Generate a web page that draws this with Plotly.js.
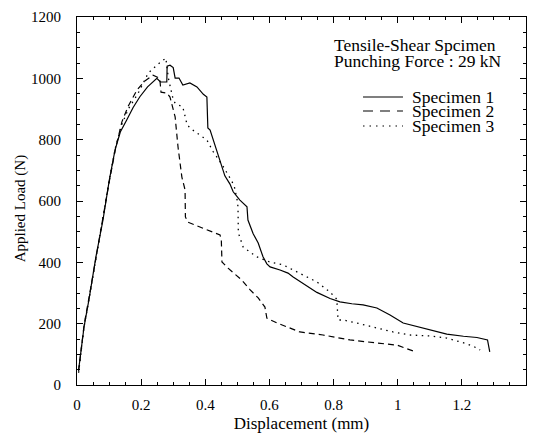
<!DOCTYPE html>
<html>
<head>
<meta charset="utf-8">
<script src="https://cdn.plot.ly/plotly-3.0.1.min.js"></script>
<style>html,body{margin:0;padding:0;background:#fff;}#chart{width:533px;height:433px;}</style>
</head>
<body>
<div id="chart"></div>
<script>
// Specimen 1 (solid)
var disp1 = [0.005,0.022,0.037,0.059,0.081,0.0925,0.1007,0.1185,0.135,0.155,0.175,0.196,0.22,0.249,0.26,0.28,0.281,0.29,0.30,0.306,0.318,0.33,0.352,0.374,0.394,0.405,0.408,0.415,0.425,0.436,0.446,0.461,0.477,0.487,0.508,0.53,0.533,0.549,0.565,0.58,0.592,0.602,0.633,0.658,0.674,0.717,0.748,0.789,0.82,0.857,0.892,0.935,0.976,1.017,1.06,1.10,1.153,1.205,1.247,1.28,1.287];
var load1 = [49,190,277,418,538,614,668,766,825,864,905,940,972,1000,988,988,1040,1043,1035,1001,1001,978,985,972,948,939,838,831,799,760,735,682,655,630,603,581,538,494,463,418,395,385,375,365,352,322,302,282,271,265,261,251,228,202,190,179,166,159,155,147,108];
// Specimen 2 (dashed)
var disp2 = [0.005,0.022,0.04,0.06,0.08,0.1,0.12,0.14,0.16,0.187,0.21,0.237,0.25,0.258,0.262,0.28,0.29,0.306,0.315,0.327,0.337,0.338,0.346,0.384,0.424,0.446,0.45,0.452,0.471,0.514,0.54,0.565,0.586,0.588,0.592,0.624,0.655,0.695,0.767,0.851,0.935,0.998,1.048];
var load2 = [45,195,300,425,540,660,770,858,910,962,990,1010,1005,1000,955,952,939,874,776,678,636,548,531,516,499,489,473,401,381,342,310,284,254,235,218,202,189,173,163,147,137,130,111];
// Specimen 3 (dotted)
var disp3 = [0.005,0.022,0.04,0.06,0.08,0.1,0.12,0.14,0.16,0.19,0.222,0.249,0.277,0.285,0.30,0.306,0.33,0.343,0.352,0.384,0.405,0.424,0.455,0.477,0.49,0.5,0.502,0.503,0.518,0.56,0.602,0.642,0.695,0.748,0.789,0.81,0.814,0.83,0.873,0.935,0.985,1.04,1.10,1.153,1.216,1.24,1.257];
var load3 = [40,190,295,420,540,665,775,850,900,950,1017,1043,1066,1000,930,919,906,850,838,815,799,762,714,675,650,600,580,496,450,418,401,392,365,336,303,280,212,212,202,186,173,163,160,153,134,124,114];

var seriesNames = ["Specimen 1","Specimen 2","Specimen 3"];
var noteLines = ["Tensile-Shear Spcimen","Punching Force : 29 kN"];
var xTitle = "Displacement (mm)";
var yTitle = "Applied Load (N)";

var FONT = "Liberation Serif, Times New Roman, serif";
var dashes = ["solid","6px,4px","1.5px,4.5px"];
var legendDashes = ["solid","10px,7px","1.5px,5px"];

var traces = [
  {x: disp1, y: load1, name: seriesNames[0], mode: "lines", line: {color: "#000", width: 1.2, dash: dashes[0]}},
  {x: disp2, y: load2, name: seriesNames[1], mode: "lines", line: {color: "#000", width: 1.2, dash: dashes[1]}},
  {x: disp3, y: load3, name: seriesNames[2], mode: "lines", line: {color: "#000", width: 1.3, dash: dashes[2]}}
];

var legY = [0.7826, 0.7446, 0.7038];
var shapes = [];
var annotations = [];
for (var i = 0; i < 3; i++) {
  shapes.push({type: "line", xref: "paper", yref: "paper", x0: 0.637, x1: 0.726, y0: legY[i], y1: legY[i],
    line: {color: "#000", width: 1.2, dash: legendDashes[i]}});
  annotations.push({xref: "paper", yref: "paper", x: 0.7416, y: legY[i], xanchor: "left", yanchor: "middle",
    text: seriesNames[i], showarrow: false, font: {family: FONT, size: 17.5, color: "#000"}});
}
annotations.push({xref: "paper", yref: "paper", x: 0.568, y: 0.924, xanchor: "left", yanchor: "middle",
  text: noteLines[0], showarrow: false, font: {family: FONT, size: 17.5, color: "#000"}});
annotations.push({xref: "paper", yref: "paper", x: 0.568, y: 0.880, xanchor: "left", yanchor: "middle",
  text: noteLines[1], showarrow: false, font: {family: FONT, size: 17.5, color: "#000"}});
// y-axis title (placed slightly below the axis centre, as in the reference)
annotations.push({xref: "paper", yref: "paper", x: -0.127, y: 0.48, xanchor: "center", yanchor: "middle",
  textangle: -90, text: yTitle, showarrow: false, font: {family: FONT, size: 15, color: "#000"}});

var layout = {
  width: 533, height: 433,
  margin: {l: 77, r: 7, t: 17, b: 48, pad: 0},
  paper_bgcolor: "#fff", plot_bgcolor: "#fff",
  showlegend: false,
  font: {family: FONT, color: "#000"},
  xaxis: {
    range: [0, 1.4], dtick: 0.2, tick0: 0,
    showline: true, linecolor: "#000", linewidth: 1, mirror: "ticks",
    ticks: "inside", ticklen: 6, tickwidth: 1, tickcolor: "#000",
    minor: {ticks: "inside", dtick: 0.05, ticklen: 3, tickwidth: 1, tickcolor: "#000", showgrid: false},
    showgrid: false, zeroline: false,
    tickfont: {family: FONT, size: 15, color: "#000"},
    ticklabelstandoff: 6,
    title: {text: xTitle, font: {family: FONT, size: 17, color: "#000"}, standoff: 5}
  },
  yaxis: {
    range: [0, 1200], dtick: 200, tick0: 0,
    showline: true, linecolor: "#000", linewidth: 1, mirror: "ticks",
    ticks: "inside", ticklen: 6, tickwidth: 1, tickcolor: "#000",
    minor: {ticks: "inside", dtick: 50, ticklen: 3, tickwidth: 1, tickcolor: "#000", showgrid: false},
    showgrid: false, zeroline: false,
    tickfont: {family: FONT, size: 15, color: "#000"},
    ticklabelstandoff: 12
  },
  shapes: shapes,
  annotations: annotations
};

Plotly.newPlot("chart", traces, layout, {displayModeBar: false, staticPlot: true});
</script>
</body>
</html>
